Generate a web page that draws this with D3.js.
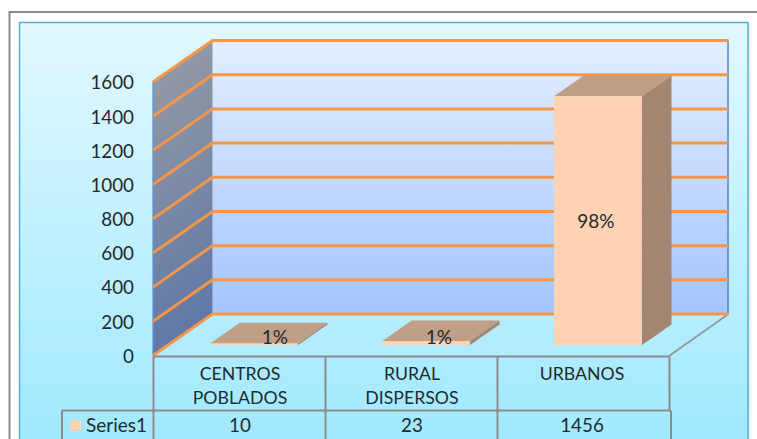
<!DOCTYPE html>
<html>
<head>
<meta charset="utf-8">
<script src="https://cdn.jsdelivr.net/npm/d3@7"></script>
<style>
html,body{margin:0;padding:0;background:#fff;overflow:hidden}
svg{display:block}
text{font-family:Lato,"Open Sans",sans-serif;fill:#1f2a30}
</style>
</head>
<body>
<svg id="c" width="757" height="439"></svg>
<script>
const categories = [["CENTROS","POBLADOS"],["RURAL","DISPERSOS"],["URBANOS"]];
const categoryKeys = ["CENTROS POBLADOS","RURAL DISPERSOS","URBANOS"];
const values = [10,23,1456];
const percentLabels = ["1%","1%","98%"];
const yTicks = [0,200,400,600,800,1000,1200,1400,1600];
const seriesName = "Series1";

const svg = d3.select("#c");
const defs = svg.append("defs");
function grad(id,stops,x2,y2){
  const g = defs.append("linearGradient").attr("id",id).attr("x1",0).attr("y1",0).attr("x2",x2).attr("y2",y2);
  stops.forEach(s=>g.append("stop").attr("offset",s[0]).attr("stop-color",s[1]));
}
grad("bg",[[0,"#e2f8ff"],[1,"#9fe9ff"]],0,1);
grad("wall",[[0,"#e4eeff"],[1,"#a4c5ff"]],0,1);
grad("side",[[0,"#999da5"],[1,"#5f78a6"]],0.15,1);
defs.append("filter").attr("id","soft").append("feGaussianBlur").attr("stdDeviation",0.35);

const y = d3.scaleLinear().domain([0,1600]).range([355.5,82]);
const x = d3.scaleBand().domain(categoryKeys).range([153,669]);
const depthX = 59.5, depthY = -41.5;
const poly = pts => pts.map(p=>p.join(",")).join(" ");

// frame
svg.append("path").attr("d","M757,12H9.5V439").attr("fill","none").attr("stroke","#8a8a8a").attr("stroke-width",2);
svg.append("rect").attr("x",22).attr("y",25).attr("width",729).attr("height",420).attr("fill","#000").attr("opacity",0.06).attr("filter","url(#soft)");
svg.append("rect").attr("x",19.5).attr("y",22.5).attr("width",728.5).attr("height",430)
  .attr("fill","url(#bg)").attr("stroke","#4fb3cd").attr("stroke-width",1.5);

const L = x.range()[0], R = x.range()[1], y0 = y(0), yTop = y(1600);

// walls
svg.append("rect").attr("x",L+depthX).attr("y",yTop+depthY).attr("width",R-L).attr("height",y0-yTop).attr("fill","url(#wall)");
svg.append("polygon").attr("points",poly([[L,y0],[L,yTop],[L+depthX,yTop+depthY],[L+depthX,y0+depthY]])).attr("fill","url(#side)");
svg.append("line").attr("x1",L).attr("x2",L).attr("y1",yTop).attr("y2",y0).attr("stroke","#5b92d6").attr("stroke-width",1.2);
svg.append("line").attr("x1",R+depthX-.5).attr("x2",R+depthX-.5).attr("y1",yTop+depthY).attr("y2",y0+depthY).attr("stroke","#5585c9").attr("stroke-width",1.5);

// floor edge
svg.append("line").attr("x1",R).attr("y1",y0+.5).attr("x2",R+depthX).attr("y2",y0+depthY).attr("stroke","#8f9a9e").attr("stroke-width",1.8);

// gridlines
const grid = svg.append("g").attr("fill","none").attr("stroke","#f79646").attr("stroke-width",3);
yTicks.forEach(t=>{
  grid.append("polyline").attr("points",poly([[L,y(t)],[L+depthX,y(t)+depthY],[R+depthX,y(t)+depthY]]));
});

// axis
const axis = d3.axisLeft(y).tickValues(yTicks).tickSize(0).tickPadding(19).tickFormat(d3.format("d"));
const ax = svg.append("g").attr("transform",`translate(${L},0.8)`).call(axis);
ax.select(".domain").remove();
ax.selectAll("text").attr("font-size",18.8).style("font-family","Lato,sans-serif").attr("fill","#222");

// bars
const barW = x.bandwidth()*0.51, barDX = depthX*0.5, barDY = depthY*0.5;
const offDX = depthX*0.25, offDY = depthY*0.25;
const bars = svg.append("g").selectAll("g").data(categoryKeys.map((k,i)=>({k,v:values[i],p:percentLabels[i],i}))).join("g");
const fx = d => x(d.k)+(x.bandwidth()-barW)/2+offDX;
bars.append("polygon").attr("fill","#a28671").attr("points",d=>{
  const a=fx(d)+barW,b=y(0)+offDY,t=y(d.v)+offDY;
  return poly([[a,b],[a,t],[a+barDX,t+barDY],[a+barDX,b+barDY]]);
});
bars.append("polygon").attr("fill","#bf9f86").attr("points",d=>{
  const a=fx(d),t=y(d.v)+offDY;
  return poly([[a,t],[a+barDX,t+barDY],[a+barW+barDX,t+barDY],[a+barW,t]]);
});
bars.append("rect").attr("fill","#fdd3b3").attr("x",fx).attr("y",d=>y(d.v)+offDY).attr("width",barW).attr("height",d=>y(0)-y(d.v));

// percent labels
const lblShift = [21,13,-2];
bars.append("text").text(d=>d.p).attr("text-anchor","middle").attr("font-size",19).attr("fill","#111")
  .attr("x",d=>fx(d)+barW/2+lblShift[d.i])
  .attr("y",d=>d.v>100 ? (y(d.v)+y(0))/2+offDY+7 : 344);

// data table
const T = svg.append("g").attr("fill","none").attr("stroke","#8c8c8c").attr("stroke-width",2);
const rowTop=356.5,rowMid=410.5,rowBot=445;
T.append("line").attr("x1",L).attr("x2",R).attr("y1",rowTop).attr("y2",rowTop);
T.append("line").attr("x1",62).attr("x2",R+1.5).attr("y1",rowMid).attr("y2",rowMid);
categoryKeys.forEach((k,i)=>T.append("line").attr("x1",x(k)+.5).attr("x2",x(k)+.5).attr("y1",rowTop).attr("y2",rowBot));
T.append("line").attr("x1",R+.5).attr("x2",R+.5).attr("y1",rowTop).attr("y2",rowMid);
T.append("line").attr("x1",R+2).attr("x2",R+2).attr("y1",rowMid).attr("y2",rowBot);
T.append("line").attr("x1",62).attr("x2",62).attr("y1",rowMid).attr("y2",rowBot);

categories.forEach((lines,i)=>{
  const cx = x(categoryKeys[i])+x.bandwidth()/2+(i===2?-1:1);
  lines.forEach((s,j)=>svg.append("text").text(s).attr("text-anchor","middle").attr("x",cx).attr("y",380+j*24).attr("font-size",17.7));
  svg.append("text").text(values[i]).attr("text-anchor","middle").attr("x",cx).attr("y",432).attr("font-size",18.8);
});
svg.append("rect").attr("x",70).attr("y",420).attr("width",11).attr("height",11).attr("fill","#fdd3b3");
svg.append("text").text(seriesName).attr("x",86).attr("y",432).attr("font-size",19);
</script>
</body>
</html>
